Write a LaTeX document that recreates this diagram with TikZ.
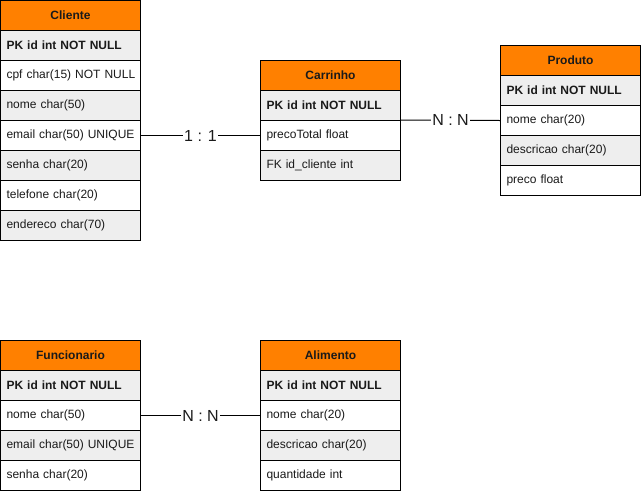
\documentclass[tikz,border=0pt]{standalone}
\usepackage{fontspec}
\setmainfont{Liberation Sans}
\definecolor{hdrorange}{HTML}{FF8000}
\definecolor{rowgray}{HTML}{EEEEEE}
\definecolor{txt}{HTML}{1A1A1A}
\begin{document}
\begin{tikzpicture}[x=1pt,y=-1pt,
  cell/.style={draw=black,line width=1pt,rectangle,anchor=north west,minimum height=30pt,
    inner ysep=0pt,inner xsep=6pt,text width=128pt,text=txt,font=\fontsize{12}{14}\selectfont},
  hdr/.style={cell,fill=hdrorange,align=center,font=\fontsize{12}{14}\selectfont\bfseries},
  gr/.style={cell,fill=rowgray,align=left},
  wh/.style={cell,fill=white,align=left},
  pk/.style={gr,font=\fontsize{12}{14}\selectfont\bfseries},
  rel/.style={draw=black,line width=1pt},
  rlab/.style={fill=white,inner sep=1pt,text=txt,font=\fontsize{16}{18}\selectfont}]
\path[fill=white] (0,0) rectangle (641,491);
\useasboundingbox (0,0) rectangle (641,491);
% Cliente
\node[hdr] (cli) at (0,0) {Cliente};
\node[pk] (cli-pk) at (0,30) {\mbox{PK id int NOT NULL}};
\node[wh] (cli-cpf) at (0,60) {\mbox{cpf char(15) NOT NULL}};
\node[gr] (cli-nome) at (0,90) {\mbox{nome char(50)}};
\node[wh] (cli-email) at (0,120) {\mbox{email char(50) UNIQUE}};
\node[gr] (cli-senha) at (0,150) {\mbox{senha char(20)}};
\node[wh] (cli-tel) at (0,180) {\mbox{telefone char(20)}};
\node[gr] (cli-end) at (0,210) {\mbox{endereco char(70)}};
% Carrinho
\node[hdr] (car) at (260,60) {Carrinho};
\node[pk] (car-pk) at (260,90) {\mbox{PK id int NOT NULL}};
\node[wh] (car-preco) at (260,120) {\mbox{precoTotal float}};
\node[gr] (car-fk) at (260,150) {\mbox{FK id\_cliente int}};
% Produto
\node[hdr] (pro) at (500,45) {Produto};
\node[pk] (pro-pk) at (500,75) {\mbox{PK id int NOT NULL}};
\node[wh] (pro-nome) at (500,105) {\mbox{nome char(20)}};
\node[gr] (pro-desc) at (500,135) {\mbox{descricao char(20)}};
\node[wh] (pro-preco) at (500,165) {\mbox{preco float}};
% Funcionario
\node[hdr] (fun) at (0,340) {Funcionario};
\node[pk] (fun-pk) at (0,370) {\mbox{PK id int NOT NULL}};
\node[wh] (fun-nome) at (0,400) {\mbox{nome char(50)}};
\node[gr] (fun-email) at (0,430) {\mbox{email char(50) UNIQUE}};
\node[wh] (fun-senha) at (0,460) {\mbox{senha char(20)}};
% Alimento
\node[hdr] (ali) at (260,340) {Alimento};
\node[pk] (ali-pk) at (260,370) {\mbox{PK id int NOT NULL}};
\node[wh] (ali-nome) at (260,400) {\mbox{nome char(20)}};
\node[gr] (ali-desc) at (260,430) {\mbox{descricao char(20)}};
\node[wh] (ali-qtd) at (260,460) {\mbox{quantidade int}};
% Relationships
\draw[rel] (cli-email.east) -- node[rlab] {1 : 1} (car-preco.west);
\coordinate (carR) at (car-preco.north east);
\draw[rel] (carR) -- node[rlab] {N : N} (pro-nome.west);
\draw[rel] (fun-nome.east) -- node[rlab] {N : N} (ali-nome.west);
\end{tikzpicture}
\end{document}
